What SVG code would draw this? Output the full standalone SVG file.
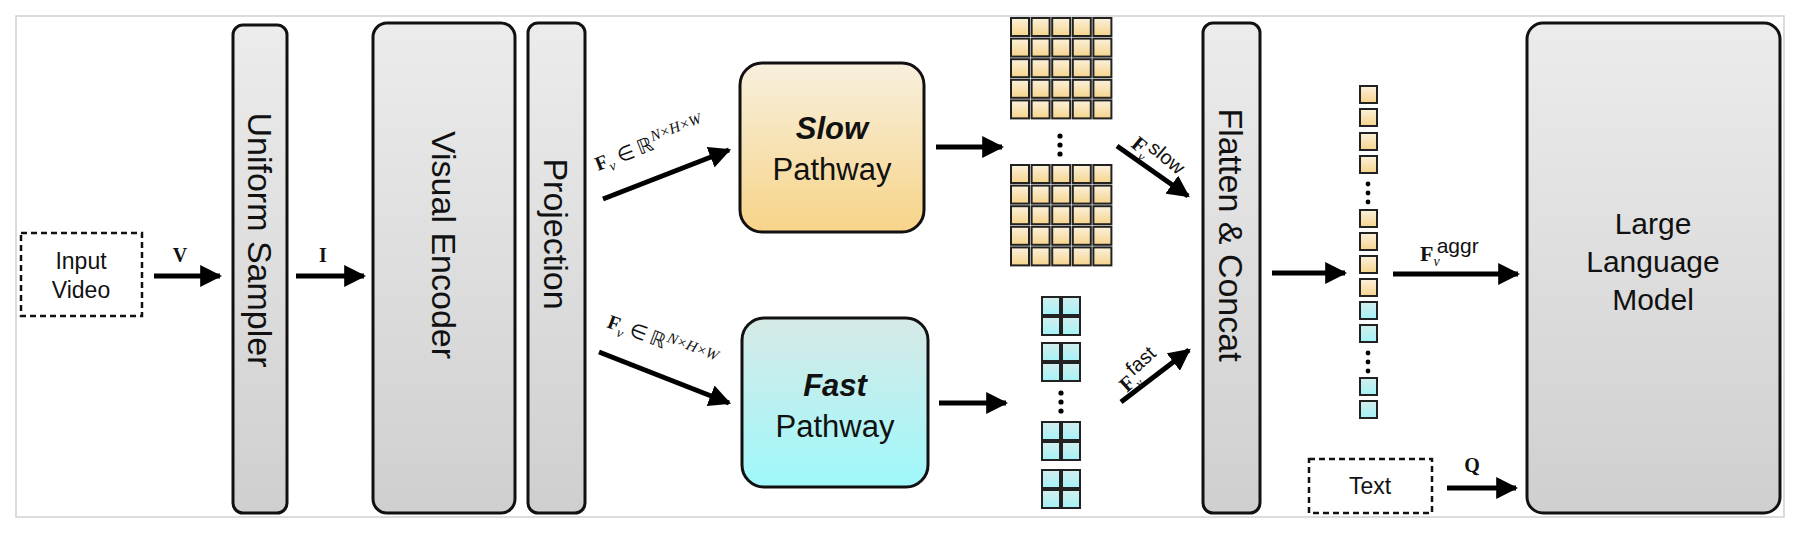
<svg xmlns="http://www.w3.org/2000/svg" width="1800" height="535" viewBox="0 0 1800 535">
<style>
.box{stroke:#111;stroke-width:3}
.g{fill:url(#gray)}
.t{font-family:"Liberation Sans",Arial,sans-serif;fill:#111}
.m{font-family:"Liberation Serif","Times New Roman",serif;fill:#111}
.ar{stroke:#000;stroke-width:5;fill:none;marker-end:url(#ah)}
.y{fill:url(#ycell);stroke:#222;stroke-width:2}
.c{fill:url(#ccell);stroke:#222;stroke-width:2}
.dash{fill:#fff;stroke:#111;stroke-width:2.5;stroke-dasharray:6 4}
.rt{font-size:34px}
</style>
<defs>
<linearGradient id="gray" x1="0" y1="0" x2="0" y2="1"><stop offset="0" stop-color="#ececec"/><stop offset="1" stop-color="#cfcfcf"/></linearGradient>
<linearGradient id="slowg" x1="0" y1="0" x2="0" y2="1"><stop offset="0" stop-color="#f8f0de"/><stop offset="1" stop-color="#f7d488"/></linearGradient>
<linearGradient id="fastg" x1="0" y1="0" x2="0" y2="1"><stop offset="0" stop-color="#d6e9e6"/><stop offset="1" stop-color="#9ff8fb"/></linearGradient>
<linearGradient id="ycell" x1="0" y1="0" x2="0" y2="1"><stop offset="0" stop-color="#fbf1dc"/><stop offset="1" stop-color="#f6d48c"/></linearGradient>
<linearGradient id="ccell" x1="0" y1="0" x2="0" y2="1"><stop offset="0" stop-color="#d4eeee"/><stop offset="1" stop-color="#a3f3f7"/></linearGradient>
<marker id="ah" viewBox="0 0 10 10" refX="9" refY="5" markerWidth="4.4" markerHeight="4.4" orient="auto" markerUnits="strokeWidth"><path d="M0,0 L10,5 L0,10 z" fill="#000"/></marker>
<g id="yrow"><rect x="1011" y="0" width="18" height="18" class="y"/><rect x="1031.6" y="0" width="18" height="18" class="y"/><rect x="1052.2" y="0" width="18" height="18" class="y"/><rect x="1072.8" y="0" width="18" height="18" class="y"/><rect x="1093.4" y="0" width="18" height="18" class="y"/></g>
<g id="blk"><rect x="1042" y="297" width="18" height="18" class="c"/><rect x="1062" y="297" width="18" height="18" class="c"/><rect x="1042" y="317" width="18" height="18" class="c"/><rect x="1062" y="317" width="18" height="18" class="c"/></g>
</defs>
<rect x="16" y="16" width="1768" height="501" fill="#fff" stroke="#d0d0d0" stroke-width="1.5"/>

<g id="input"><rect x="21" y="233" width="121" height="83" class="dash"/><text class="t" font-size="23" text-anchor="middle"><tspan x="81" y="269">Input</tspan><tspan x="81" y="298">Video</tspan></text></g>
<g id="sampler"><rect x="233" y="25" width="54" height="488" rx="10" class="box g"/><text class="t rt" text-anchor="middle" transform="translate(260,240) rotate(90)" dy="12">Uniform Sampler</text></g>
<g id="encoder"><rect x="373" y="23" width="142" height="490" rx="14" class="box g"/><text class="t rt" text-anchor="middle" transform="translate(444,245) rotate(90)" dy="12">Visual Encoder</text></g>
<g id="projection"><rect x="528" y="23" width="57" height="490" rx="10" class="box g"/><text class="t rt" text-anchor="middle" transform="translate(556,234) rotate(90)" dy="12">Projection</text></g>
<g id="slow"><rect x="740" y="63" width="184" height="169" rx="22" class="box" fill="url(#slowg)"/><text class="t" font-size="31" text-anchor="middle"><tspan x="832" y="139" font-weight="bold" font-style="italic">Slow</tspan><tspan x="832" y="180">Pathway</tspan></text></g>
<g id="fast"><rect x="742" y="318" width="186" height="169" rx="22" class="box" fill="url(#fastg)"/><text class="t" font-size="31" text-anchor="middle"><tspan x="835" y="396" font-weight="bold" font-style="italic">Fast</tspan><tspan x="835" y="437">Pathway</tspan></text></g>
<g id="flatten"><rect x="1203" y="23" width="57" height="490" rx="10" class="box g"/><text class="t rt" text-anchor="middle" transform="translate(1231,235) rotate(90)" dy="12">Flatten &amp; Concat</text></g>
<g id="llm"><rect x="1527" y="23" width="253" height="490" rx="16" class="box g"/><text class="t" font-size="30" text-anchor="middle"><tspan x="1653" y="234">Large</tspan><tspan x="1653" y="272">Language</tspan><tspan x="1653" y="310">Model</tspan></text></g>
<g id="text"><rect x="1309" y="459" width="123" height="54" class="dash"/><text class="t" font-size="23" x="1370" y="494" text-anchor="middle">Text</text></g>

<g id="slowgrid">
<use href="#yrow" y="18"/><use href="#yrow" y="38.6"/><use href="#yrow" y="59.2"/><use href="#yrow" y="79.8"/><use href="#yrow" y="100.4"/>
<use href="#yrow" y="165"/><use href="#yrow" y="185.6"/><use href="#yrow" y="206.2"/><use href="#yrow" y="226.8"/><use href="#yrow" y="247.4"/>
<circle cx="1060" cy="136" r="2.6"/><circle cx="1060" cy="145" r="2.6"/><circle cx="1060" cy="154" r="2.6"/>
</g>
<g id="fastgrid">
<use href="#blk"/><use href="#blk" y="46"/><use href="#blk" y="125"/><use href="#blk" y="173"/>
<circle cx="1061" cy="393" r="2.6"/><circle cx="1061" cy="402" r="2.6"/><circle cx="1061" cy="411" r="2.6"/>
</g>
<g id="column">
<rect x="1360" y="86" width="17" height="17" class="y"/><rect x="1360" y="109" width="17" height="17" class="y"/><rect x="1360" y="133" width="17" height="17" class="y"/><rect x="1360" y="156" width="17" height="17" class="y"/>
<circle cx="1368" cy="184" r="2.4"/><circle cx="1368" cy="193" r="2.4"/><circle cx="1368" cy="202" r="2.4"/>
<rect x="1360" y="210" width="17" height="17" class="y"/><rect x="1360" y="233" width="17" height="17" class="y"/><rect x="1360" y="256" width="17" height="17" class="y"/><rect x="1360" y="279" width="17" height="17" class="y"/>
<rect x="1360" y="302" width="17" height="17" class="c"/><rect x="1360" y="325" width="17" height="17" class="c"/>
<circle cx="1368" cy="353" r="2.4"/><circle cx="1368" cy="362" r="2.4"/><circle cx="1368" cy="371" r="2.4"/>
<rect x="1360" y="378" width="17" height="17" class="c"/><rect x="1360" y="401" width="17" height="17" class="c"/>
</g>

<g id="connectors">
<line x1="154" y1="276" x2="220" y2="276" class="ar"/>
<line x1="296" y1="276" x2="364" y2="276" class="ar"/>
<line x1="603" y1="199" x2="729" y2="150" class="ar"/>
<line x1="599" y1="352" x2="729" y2="403" class="ar"/>
<line x1="936" y1="147" x2="1002" y2="147" class="ar"/>
<line x1="939" y1="403" x2="1006" y2="403" class="ar"/>
<line x1="1117" y1="146" x2="1188" y2="196" class="ar"/>
<line x1="1121" y1="402" x2="1189" y2="350" class="ar"/>
<line x1="1272" y1="273" x2="1345" y2="273" class="ar"/>
<line x1="1393" y1="274" x2="1518" y2="274" class="ar"/>
<line x1="1447" y1="488" x2="1516" y2="488" class="ar"/>
</g>
<g id="labels">
<text class="m" font-size="20" font-weight="bold" x="180" y="262" text-anchor="middle">V</text>
<text class="m" font-size="20" font-weight="bold" x="323" y="262" text-anchor="middle">I</text>
<text class="m" font-size="20" transform="translate(598,171) rotate(-21)"><tspan font-weight="bold">F</tspan><tspan font-style="italic" font-size="14" dy="5">v</tspan><tspan dy="-5"> ∈ ℝ</tspan><tspan font-style="italic" font-size="15" dy="-8">N×H×W</tspan></text>
<text class="m" font-size="20" transform="translate(606,327) rotate(21)"><tspan font-weight="bold">F</tspan><tspan font-style="italic" font-size="14" dy="5">v</tspan><tspan dy="-5"> ∈ ℝ</tspan><tspan font-style="italic" font-size="15" dy="-8">N×H×W</tspan></text>
<text transform="translate(1130,146) rotate(40)"><tspan class="m" font-size="21" font-weight="bold">F</tspan><tspan class="m" font-style="italic" font-size="13" dy="5">v</tspan><tspan class="t" font-size="20" dy="-13" dx="-3">slow</tspan></text>
<text transform="translate(1127,393) rotate(-42)"><tspan class="m" font-size="21" font-weight="bold">F</tspan><tspan class="m" font-style="italic" font-size="13" dy="5">v</tspan><tspan class="t" font-size="20" dy="-13" dx="-3">fast</tspan></text>
<text x="1420" y="261"><tspan class="m" font-size="22" font-weight="bold">F</tspan><tspan class="m" font-style="italic" font-size="14" dy="5">v</tspan><tspan class="t" font-size="21" dy="-13" dx="-3">aggr</tspan></text>
<text class="m" font-size="20" font-weight="bold" x="1472" y="472" text-anchor="middle">Q</text>
</g>
</svg>
